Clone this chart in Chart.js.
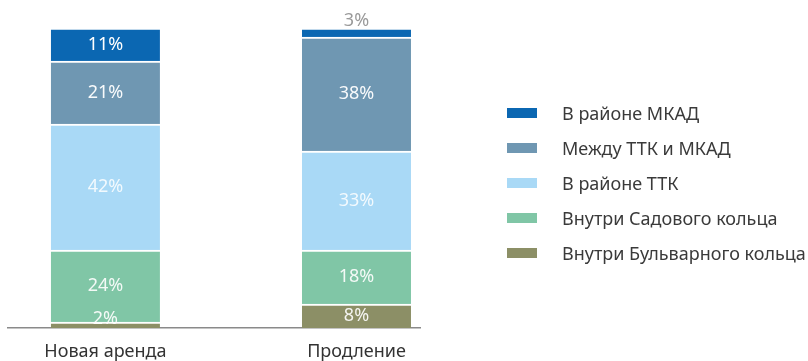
<!DOCTYPE html>
<html lang="ru">
<head>
<meta charset="utf-8">
<script src="https://cdn.jsdelivr.net/npm/chart.js@4.4.1/dist/chart.umd.min.js"></script>
<style>
  html, body { margin: 0; padding: 0; background: #fff; }
  #wrap { position: relative; width: 808px; height: 361px; }
  #legend { position: absolute; left: 507px; top: 96px; margin: 0; padding: 0; list-style: none;
            font-family: "Noto Sans", sans-serif; font-size: 18px; color: #3a3a3a; }
  #legend li { display: flex; align-items: center; height: 34.8px; white-space: nowrap; }
  #legend span.box { display: inline-block; width: 30px; height: 10px; margin-right: 25px; }
</style>
</head>
<body>
<div id="wrap">
  <canvas id="c" width="808" height="361"></canvas>
  <ul id="legend"></ul>
</div>
<script>
// Доля сделок по зонам, % (снизу вверх)
const categories = ['Новая аренда', 'Продление'];
const bulvarnoe = [2, 8];    // Внутри Бульварного кольца
const sadovoe   = [24, 18];  // Внутри Садового кольца
const ttk       = [42, 33];  // В районе ТТК
const ttkMkad   = [21, 38];  // Между ТТК и МКАД
const mkad      = [11, 3];   // В районе МКАД

const series = [
  { label: 'Внутри Бульварного кольца', data: bulvarnoe, color: '#8c8f66', text: 'rgba(255,255,255,0.9)' },
  { label: 'Внутри Садового кольца',    data: sadovoe,   color: '#80c6a6', text: 'rgba(255,255,255,0.9)' },
  { label: 'В районе ТТК',              data: ttk,       color: '#a9d9f6', text: 'rgba(255,255,255,0.85)' },
  { label: 'Между ТТК и МКАД',          data: ttkMkad,   color: '#6f97b2', text: 'rgba(255,255,255,0.95)' },
  { label: 'В районе МКАД',             data: mkad,      color: '#0b67b2', text: '#ffffff' },
];

const FONT = '"Noto Sans", sans-serif';

// подписи значений внутри сегментов; маленькие сверху — над столбцом, серым
const valueLabels = {
  id: 'valueLabels',
  afterDatasetsDraw(chart) {
    const ctx = chart.ctx;
    const last = chart.data.datasets.length - 1;
    ctx.save();
    ctx.font = '18px ' + FONT;
    ctx.textAlign = 'center';
    ctx.textBaseline = 'middle';
    chart.data.datasets.forEach((ds, di) => {
      chart.getDatasetMeta(di).data.forEach((bar, i) => {
        const v = ds.data[i].y;
        const { x, y, base } = bar.getProps(['x', 'y', 'base'], true);
        let ty = (y + base) / 2;
        ctx.fillStyle = ds.labelColor;
        if (v < 5 && di === last) { ty = y - 7; ctx.fillStyle = '#9a9a9a'; }
        else if (v < 5) ty = base - 9;
        ctx.fillText(v + '%', x, ty);
      });
    });
    ctx.restore();
  }
};

const chart = new Chart(document.getElementById('c'), {
  type: 'bar',
  data: {
    datasets: series.map(s => ({
      label: s.label,
      data: s.data.map((v, i) => ({ x: i, y: v })),
      backgroundColor: s.color,
      borderColor: '#ffffff',
      borderWidth: { top: 2, left: 0, right: 0, bottom: 0 },
      borderSkipped: false,
      barThickness: 109,
      labelColor: s.text,
    })),
  },
  options: {
    responsive: false,
    animation: false,
    layout: { padding: { left: 8, right: 388, top: 28, bottom: 0 } },
    plugins: { legend: { display: false }, tooltip: { enabled: false } },
    scales: {
      x: {
        type: 'linear', stacked: true, offset: false, min: -0.388, max: 1.253,
        afterBuildTicks: axis => { axis.ticks = categories.map((c, i) => ({ value: i })); },
        afterFit: axis => { axis.height = 33; },
        ticks: { callback: v => categories[v], color: '#333', font: { family: FONT, size: 18 }, padding: 13, maxRotation: 0, autoSkip: false },
        grid: { display: false, drawTicks: false },
        border: { color: '#8a8a8a', width: 1.5 },
      },
      y: { stacked: true, min: 0, max: 100, display: false },
    },
  },
  plugins: [valueLabels],
});

// легенда: сверху вниз в порядке стопки
const legend = document.getElementById('legend');
chart.data.datasets.slice().reverse().forEach(ds => {
  const li = document.createElement('li');
  const box = document.createElement('span');
  box.className = 'box';
  box.style.background = ds.backgroundColor;
  li.appendChild(box);
  li.appendChild(document.createTextNode(ds.label));
  legend.appendChild(li);
});
</script>
</body>
</html>
